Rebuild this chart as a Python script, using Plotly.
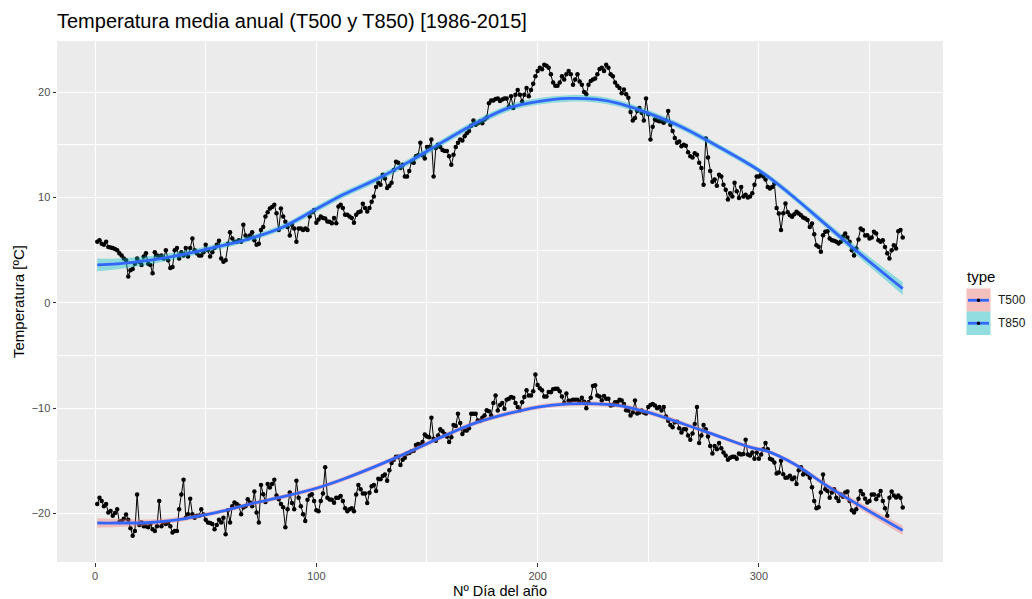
import numpy as np
import plotly.graph_objects as go

# ---------------- data ----------------
days = list(range(1, 366))

t850 = [
    5.8, 5.95, 5.6, 5.5, 5.8, 5.3, 5.25, 5.2, 5.1, 5.0,
    4.7, 4.5, 4.2, 4.05, 2.5, 3.1, 3.2, 3.7, 4.2, 3.9,
    3.6, 4.4, 4.7, 3.7, 3.6, 2.8, 4.8, 4.5, 4.4, 4.5,
    4.2, 5.0, 4.05, 3.3, 3.4, 5.0, 5.2, 4.2, 4.8, 4.5,
    5.2, 4.4, 5.2, 6.1, 5.0, 4.7, 4.5, 4.5, 4.8, 5.5,
    5.0, 4.4, 4.8, 5.2, 5.5, 5.9, 4.2, 3.9, 4.05, 5.6,
    6.7, 6.1, 5.8, 5.8, 5.95, 5.8, 7.4, 6.4, 6.1, 6.4,
    6.7, 5.95, 5.5, 5.6, 6.9, 7.2, 8.2, 8.6, 8.95, 9.1,
    9.3, 8.5, 6.9, 8.95, 8.2, 7.7, 7.2, 6.4, 7.4, 7.05,
    5.8, 7.05, 7.05, 6.9, 7.05, 6.9, 8.2, 8.6, 8.8, 7.6,
    7.9, 8.2, 8.04, 8.0, 7.72, 7.7, 7.56, 8.04, 7.56, 9.15,
    9.3, 9.0, 8.35, 8.35, 8.2, 8.04, 7.6, 8.35, 8.6, 8.67,
    9.4, 9.0, 8.67, 9.0, 9.6, 10.1, 11.0, 11.4, 11.2, 12.15,
    11.8, 10.9, 11.1, 11.4, 12.6, 13.4, 13.3, 12.8, 13.1, 12.0,
    12.0, 12.5, 13.4, 13.3, 13.9, 14.0, 15.2, 14.0, 13.7, 14.8,
    14.8, 15.5, 12.0, 14.7, 15.0, 14.8, 14.5, 14.4, 14.4, 13.9,
    13.1, 14.05, 14.8, 15.2, 15.5, 15.4, 15.8, 16.1, 16.3, 16.8,
    17.3, 16.9, 17.05, 17.2, 17.05, 17.4, 17.6, 18.95, 19.2, 19.2,
    19.35, 19.4, 19.15, 19.3, 19.4, 19.4, 18.6, 19.6, 18.5, 19.75,
    20.2, 19.75, 19.1, 19.75, 20.4, 19.6, 20.2, 20.8, 21.5, 22.0,
    22.3, 22.16, 22.6, 22.5, 22.3, 21.7, 20.9, 20.6, 20.6, 20.9,
    21.5, 21.2, 21.7, 22.0, 21.7, 20.7, 21.2, 21.7, 21.0, 20.7,
    20.0, 19.8, 20.7, 21.05, 21.2, 21.3, 21.7, 22.2, 22.3, 22.0,
    22.6, 22.3, 21.7, 21.5, 20.9, 20.6, 20.4, 19.9, 20.25, 19.8,
    19.46, 18.1, 17.3, 17.55, 18.2, 18.5, 18.03, 17.3, 19.4, 17.9,
    15.5, 16.7, 17.4, 17.3, 17.24, 17.24, 17.1, 17.3, 18.2, 16.9,
    16.3, 15.65, 15.2, 15.3, 14.86, 15.0, 14.9, 14.3, 13.9, 13.8,
    14.2, 14.06, 13.3, 12.8, 11.2, 15.6, 13.8, 12.5, 11.5, 11.7,
    11.1, 12.16, 12.0, 11.2, 10.73, 9.8, 10.4, 10.1, 11.4, 10.6,
    9.94, 11.0, 10.1, 10.25, 10.0, 10.1, 10.4, 11.2, 12.0, 12.0,
    12.2, 12.0, 11.7, 11.0, 10.85, 11.0, 11.3, 9.0, 8.48, 6.9,
    8.5, 9.43, 8.6, 8.3, 8.16, 8.4, 8.64, 8.48, 8.3, 8.1,
    8.0, 7.85, 7.2, 7.53, 6.5, 5.47, 5.32, 4.84, 6.42, 6.74,
    6.8, 6.1, 5.95, 5.9, 5.8, 5.63, 5.8, 6.3, 6.58, 6.2,
    5.8, 5.0, 4.5, 5.16, 6.0, 7.06, 6.9, 6.4, 6.42, 6.1,
    6.2, 6.74, 6.58, 5.95, 5.8, 5.95, 5.3, 4.7, 4.2, 5.0,
    5.47, 5.16, 6.8, 6.9, 6.2,
]

t500 = [
    -19.1, -18.5, -18.8, -19.3, -19.1, -19.9, -19.75, -20.2, -19.95, -19.6,
    -20.8, -20.7, -20.5, -20.1, -20.6, -21.4, -22.1, -21.65, -18.2, -21.1,
    -20.85, -21.2, -21.2, -21.3, -21.0, -21.5, -21.65, -21.2, -18.8, -21.2,
    -20.85, -21.0, -20.85, -21.2, -21.8, -21.65, -21.65, -19.6, -18.2, -16.8,
    -20.4, -20.06, -18.6, -20.06, -20.4, -20.2, -20.2, -19.6, -20.1, -20.6,
    -20.85, -20.9, -21.0, -21.5, -21.1, -20.6, -20.85, -20.4, -21.96, -19.7,
    -20.85, -19.3, -18.96, -19.1, -19.27, -20.06, -19.43, -19.3, -18.64, -18.96,
    -19.3, -17.9, -19.9, -20.85, -17.3, -18.16, -18.9, -17.2, -17.53, -17.2,
    -16.8, -18.3, -18.64, -19.1, -19.4, -21.3, -19.6, -18.0, -19.0, -19.6,
    -16.9, -18.5, -19.3, -20.06, -20.7, -18.7, -18.3, -18.16, -18.8, -19.7,
    -19.78, -18.8, -18.1, -15.6, -18.5, -18.66, -18.7, -18.98, -18.5, -18.5,
    -18.34, -18.82, -19.5, -19.78, -19.6, -19.5, -19.78, -18.2, -17.3, -17.7,
    -18.1, -18.1, -19.0, -18.03, -17.4, -17.3, -17.87, -16.7, -16.75, -16.43,
    -16.3, -16.9, -15.9, -15.2, -14.9, -14.6, -14.6, -15.4, -14.9, -14.7,
    -14.3, -14.25, -14.1, -14.04, -13.5, -13.4, -13.5, -13.2, -12.5, -12.7,
    -12.77, -10.9, -12.9, -13.1, -12.6, -12.0, -12.2, -12.45, -12.7, -13.2,
    -12.77, -11.6, -11.7, -10.54, -11.4, -12.45, -12.13, -12.13, -11.9, -10.54,
    -10.54, -10.54, -11.18, -11.2, -10.9, -10.7, -10.2, -10.3, -10.7, -9.5,
    -8.8, -10.22, -9.7, -9.5, -10.06, -9.2, -9.1, -8.95, -9.0, -9.5,
    -9.9, -10.2, -9.43, -8.95, -8.3, -8.8, -8.79, -8.4, -6.8, -7.8,
    -8.1, -8.3, -8.9, -8.9, -8.47, -8.5, -8.2, -8.15, -8.15, -8.4,
    -8.9, -9.5, -8.6, -9.3, -9.3, -9.2, -9.2, -9.2, -9.4, -9.0,
    -9.4, -10.0, -9.43, -9.0, -7.9, -7.83, -8.8, -8.9, -9.27, -8.85,
    -9.1, -9.1, -9.75, -9.7, -9.43, -9.43, -9.2, -9.27, -9.6, -10.2,
    -10.22, -10.7, -10.4, -9.27, -10.5, -10.4, -10.22, -10.4, -10.5, -9.9,
    -9.7, -9.6, -9.75, -10.0, -9.9, -10.22, -9.9, -10.8, -11.2, -11.6,
    -11.8, -11.34, -11.3, -11.9, -12.3, -12.0, -12.0, -12.6, -13.0, -12.4,
    -11.5, -9.9, -13.3, -12.6, -11.6, -12.0, -12.7, -13.6, -14.3, -13.6,
    -13.9, -13.3, -13.8, -14.2, -14.5, -14.9, -14.7, -14.6, -14.6, -14.8,
    -14.3, -14.4, -14.36, -13.0, -14.4, -14.5, -14.2, -14.8, -14.2, -14.8,
    -14.4, -13.9, -13.3, -13.9, -14.8, -14.9, -15.16, -16.2, -16.1, -15.0,
    -16.27, -16.6, -16.58, -16.42, -16.74, -16.58, -17.2, -15.9, -15.6, -16.3,
    -16.1, -16.27, -16.6, -17.5, -18.8, -19.5, -19.4, -18.0, -16.3, -17.7,
    -17.85, -18.5, -18.0, -17.7, -18.5, -18.8, -18.2, -18.4, -18.0, -17.9,
    -18.8, -19.7, -19.9, -19.6, -18.6, -17.85, -18.16, -18.6, -18.96, -18.8,
    -18.2, -18.2, -18.64, -18.3, -17.85, -18.8, -19.5, -20.2, -18.5, -17.9,
    -18.3, -18.48, -18.3, -18.5, -19.43,
]

# smoothed trend curves
smooth_days = [1, 10, 25, 40, 55, 70, 85, 100, 112, 127, 142, 157, 172, 187,
               200, 214, 227, 237, 250, 266, 281, 296, 304, 316, 331, 346, 365]
t850_smooth = [3.6, 3.7, 4.05, 4.6, 5.3, 6.1, 7.2, 8.9, 10.25, 11.7, 13.4, 15.25, 17.05, 18.5,
               19.1, 19.4, 19.3, 18.9, 18.0, 16.6, 14.9, 13.1, 12.0, 10.0, 7.3, 4.6, 1.35]
t500_smooth = [-20.9, -20.9, -20.85, -20.5, -19.9, -19.1, -18.4, -17.6, -16.75, -15.5, -14.15,
               -12.7, -11.4, -10.5, -9.9, -9.6, -9.6, -9.75, -10.4, -11.5, -12.6, -13.7,
               -14.1, -15.3, -17.4, -19.3, -21.6]

series_names = ["T500", "T850"]
fill_colors = {"T500": "rgba(248,118,109,0.4)", "T850": "rgba(0,191,196,0.4)"}
x_ticks = [0, 100, 200, 300]
y_ticks = [-20, -10, 0, 10, 20]

assert len(t850) == 365 and len(t500) == 365


# ---------------- 95% confidence half-width of a loess fit (span 0.75) ----------------
def loess_halfwidth(x, y, xe, span=0.75):
    x = np.asarray(x, float)
    y = np.asarray(y, float)
    xe = np.asarray(xe, float)
    n = len(x)
    q = int(np.floor(n * span))
    lo_, rng = x.min(), x.max() - x.min()
    xs = (x - lo_) / rng
    xes = (xe - lo_) / rng

    def row(x0):
        d = np.abs(xs - x0)
        h = np.sort(d)[q - 1]
        u = np.clip(d / h, 0, 1)
        w = (1 - u ** 3) ** 3
        X = np.column_stack([np.ones(n), xs - x0, (xs - x0) ** 2])
        XtW = X.T * w
        return np.linalg.solve(XtW @ X, XtW)[0]

    Lg = np.array([row(v) for v in xes])
    Ld = np.array([row(v) for v in xs])
    res = y - Ld @ y
    M = np.eye(n) - Ld
    MtM = M.T @ M
    d1 = np.trace(MtM)
    d2 = np.sum(MtM * MtM.T)
    s = np.sqrt(res @ res / d1)
    se = s * np.sqrt((Lg ** 2).sum(axis=1))
    df = d1 ** 2 / d2
    z = 1.959964
    t = z + (z ** 3 + z) / (4 * df)
    return t * se


FONT = "Liberation Sans, Arial, Helvetica, sans-serif"
fig = go.Figure()

data_by_name = {"T500": t500, "T850": t850}
smooth_by_name = {"T500": t500_smooth, "T850": t850_smooth}

for nm in series_names:
    fig.add_trace(go.Scatter(
        x=days, y=data_by_name[nm], mode="lines+markers", name=nm,
        line=dict(color="black", width=1),
        marker=dict(color="black", size=4.5),
        showlegend=False,
    ))

for nm in series_names:
    fit = np.asarray(smooth_by_name[nm], float)
    hw = loess_halfwidth(days, data_by_name[nm], smooth_days)
    fig.add_trace(go.Scatter(
        x=smooth_days, y=fit - hw, mode="lines", line=dict(width=0, shape="spline"),
        showlegend=False, hoverinfo="skip",
    ))
    fig.add_trace(go.Scatter(
        x=smooth_days, y=fit + hw, mode="lines", line=dict(width=0, shape="spline"),
        fill="tonexty", fillcolor=fill_colors[nm],
        showlegend=False, hoverinfo="skip",
    ))
for nm in series_names:
    fig.add_trace(go.Scatter(
        x=smooth_days, y=smooth_by_name[nm], mode="lines", name=nm + " tendencia",
        line=dict(color="#3366FF", width=2.8, shape="spline"), showlegend=False,
    ))

# ---------------- layout ----------------
W, H = 1032, 599
ML, MR, MT, MB = 57, 89, 41, 37
PW, PH = W - ML - MR, H - MT - MB


def px(xp):
    return (xp - ML) / PW


def py(yp):
    return (H - MB - yp) / PH


axis_common = dict(
    showgrid=True, gridcolor="white", gridwidth=1.3,
    zeroline=False, showline=False,
    ticks="outside", ticklen=3.5, tickwidth=1, tickcolor="#333333",
    tickfont=dict(size=11, color="#4D4D4D", family=FONT),
)

fig.update_layout(
    width=W, height=H,
    margin=dict(l=ML, r=MR, t=MT, b=MB, autoexpand=False),
    paper_bgcolor="white", plot_bgcolor="#EBEBEB",
    font=dict(family=FONT, color="black"),
    showlegend=False,
    title=dict(text="Temperatura media anual (T500 y T850) [1986-2015]",
               x=ML / W, xanchor="left", xref="container",
               y=1 - 21 / H, yanchor="middle", yref="container",
               font=dict(size=20, color="black", family=FONT)),
    xaxis=dict(axis_common, range=[-17.2, 383.2], tickvals=x_ticks,
               minor=dict(dtick=50, tick0=0, showgrid=True, gridcolor="white",
                          gridwidth=0.6, ticks=""),
               title=dict(text="Nº Día del año", standoff=5,
                          font=dict(size=14.5, color="black", family=FONT))),
    yaxis=dict(axis_common, range=[-24.6, 24.85], tickvals=y_ticks,
               minor=dict(dtick=5, tick0=0, showgrid=True, gridcolor="white",
                          gridwidth=0.6, ticks=""),
               title=dict(text="Temperatura [ºC]", standoff=3,
                          font=dict(size=15, color="black", family=FONT))),
)

# ---------------- hand-built legend (fill keys like ggplot) ----------------
shapes = []
annotations = [dict(text="type", x=px(965), y=py(276), xref="paper", yref="paper",
                    xanchor="left", yanchor="middle", showarrow=False,
                    font=dict(size=15, color="black", family=FONT))]
key_tops = [288.5, 311.5]
for nm, top in zip(series_names, key_tops):
    bot = top + 23.5
    cy = (top + bot) / 2
    shapes.append(dict(type="rect", xref="paper", yref="paper",
                       x0=px(966.5), x1=px(990.5), y0=py(bot), y1=py(top),
                       fillcolor="#F2F2F2", line=dict(width=0)))
    shapes.append(dict(type="rect", xref="paper", yref="paper",
                       x0=px(966.5), x1=px(990.5), y0=py(bot), y1=py(top),
                       fillcolor=fill_colors[nm], line=dict(width=0)))
    shapes.append(dict(type="line", xref="paper", yref="paper",
                       x0=px(968), x1=px(989), y0=py(cy), y1=py(cy),
                       line=dict(color="#3366FF", width=2.8)))
    shapes.append(dict(type="circle", xref="paper", yref="paper",
                       x0=px(976.7), x1=px(980.3), y0=py(cy + 1.8), y1=py(cy - 1.8),
                       fillcolor="black", line=dict(width=0)))
    annotations.append(dict(text=nm, x=px(996), y=py(cy), xref="paper", yref="paper",
                            xanchor="left", yanchor="middle", showarrow=False,
                            font=dict(size=12, color="#1A1A1A", family=FONT)))

fig.update_layout(shapes=shapes, annotations=annotations)

fig.write_html("out.html", include_plotlyjs=True, full_html=True,
               config={"displayModeBar": False},
               post_script="document.body.style.margin='0';document.body.style.overflow='hidden';")
